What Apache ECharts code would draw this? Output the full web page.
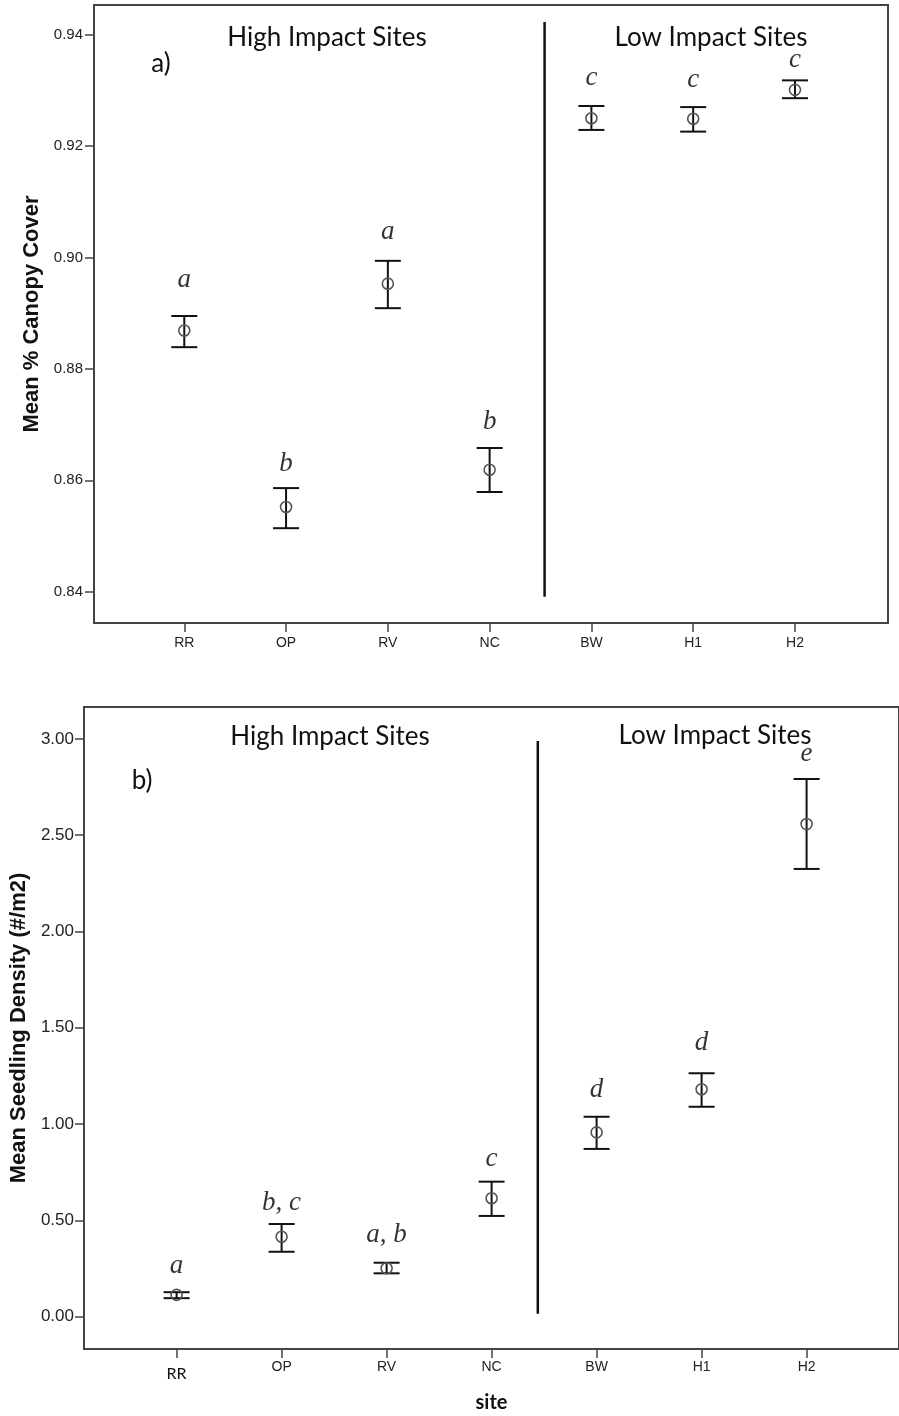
<!DOCTYPE html>
<html>
<head>
<meta charset="utf-8">
<script src="https://cdn.jsdelivr.net/npm/echarts@6/dist/echarts.min.js"></script>
<style>
  html, body { margin: 0; padding: 0; background: #fff; }
  #chart { width: 899px; height: 1416px; }
</style>
</head>
<body>
<div id="chart"></div>
<script>
// Sites along the x axis (high impact first, then low impact)
const sites = ['RR', 'OP', 'RV', 'NC', 'BW', 'H1', 'H2'];

// a) Mean % canopy cover with error bar limits
const canopyMean = [0.8869, 0.8552, 0.8953, 0.8619, 0.9250, 0.9249, 0.9301];
const canopyLow  = [0.8839, 0.8514, 0.8909, 0.8579, 0.9229, 0.9226, 0.9286];
const canopyHigh = [0.8895, 0.8586, 0.8994, 0.8658, 0.9272, 0.9270, 0.9318];
const canopyLetters = ['a', 'b', 'a', 'b', 'c', 'c', 'c'];
const canopyTicks = [0.84, 0.86, 0.88, 0.90, 0.92, 0.94];

// b) Mean seedling density (#/m2) with error bar limits
const seedMean = [0.113, 0.415, 0.251, 0.615, 0.957, 1.181, 2.558];
const seedLow  = [0.096, 0.337, 0.225, 0.523, 0.871, 1.090, 2.325];
const seedHigh = [0.127, 0.481, 0.280, 0.701, 1.038, 1.264, 2.792];
const seedLetters = ['a', 'b, c', 'a, b', 'c', 'd', 'd', 'e'];
const seedTicks = [0, 0.5, 1.0, 1.5, 2.0, 2.5, 3.0];

// Divider between high and low impact groups (x in site units, y in axis units)
const canopyDivider = { x: 3.54, from: 0.8391, to: 0.9423 };
const seedDivider = { x: 3.44, from: 0.015, to: 2.99 };

// Layout: gap in px between upper cap and the group letter
const canopyLetterGap = [27, 15, 19, 17, 19, 18, 11];
const seedLetterGap = [17, 12, 18, 13, 17, 21, 16];

const siteIdx = sites.map((s, i) => i);
const INK = '#111';
const FRAME = '#444';

function errorBars(xi, yi, low, high) {
  return {
    type: 'custom',
    xAxisIndex: xi, yAxisIndex: yi,
    silent: true,
    z: 2,
    encode: { x: 0, y: [1, 2] },
    data: siteIdx.map(i => [i, low[i], high[i]]),
    renderItem(params, api) {
      const x = api.value(0);
      const pHi = api.coord([x, api.value(2)]);
      const pLo = api.coord([x, api.value(1)]);
      const w = 13;
      const st = { stroke: INK, lineWidth: 2 };
      return {
        type: 'group',
        children: [
          { type: 'line', shape: { x1: pHi[0], y1: pHi[1], x2: pLo[0], y2: pLo[1] }, style: st },
          { type: 'line', shape: { x1: pHi[0] - w, y1: pHi[1], x2: pHi[0] + w, y2: pHi[1] }, style: st },
          { type: 'line', shape: { x1: pLo[0] - w, y1: pLo[1], x2: pLo[0] + w, y2: pLo[1] }, style: st }
        ]
      };
    }
  };
}

function means(xi, yi, mean) {
  return {
    type: 'scatter',
    xAxisIndex: xi, yAxisIndex: yi,
    silent: true,
    z: 3,
    symbol: 'circle',
    symbolSize: 11,
    itemStyle: { color: 'rgba(0,0,0,0)', borderColor: '#555', borderWidth: 1.6, opacity: 1 },
    data: siteIdx.map(i => [i, mean[i]])
  };
}

function letters(xi, yi, high, text, gaps) {
  return {
    type: 'scatter',
    xAxisIndex: xi, yAxisIndex: yi,
    silent: true,
    z: 4,
    symbolSize: 0,
    data: siteIdx.map(i => ({ value: [i, high[i]], label: { distance: gaps[i] - 4 } })),
    label: {
      show: true,
      position: 'top',
      formatter: p => text[p.dataIndex],
      fontFamily: 'Liberation Serif',
      fontStyle: 'italic',
      fontSize: 27,
      color: '#000'
    }
  };
}

function divider(xi, yi, d) {
  return {
    type: 'line',
    xAxisIndex: xi, yAxisIndex: yi,
    silent: true,
    symbol: 'none',
    z: 2,
    lineStyle: { color: INK, width: 2.5 },
    data: [[d.x, d.from], [d.x, d.to]]
  };
}

const yTitleStyle = { fontFamily: 'Liberation Sans', fontWeight: 'bold', color: INK };
const hiddenLine = { show: false, onZero: false };

const option = {
  animation: false,
  backgroundColor: '#fff',
  grid: [
    { left: 94, top: 5, width: 794, height: 618, show: true, borderColor: FRAME, borderWidth: 2, backgroundColor: 'transparent' },
    { left: 84, top: 707, width: 825, height: 642, show: true, borderColor: FRAME, borderWidth: 2, backgroundColor: 'transparent' }
  ],
  xAxis: [
    {
      gridIndex: 0, type: 'value', min: -0.887, max: 6.914, position: 'bottom',
      axisLine: hiddenLine,
      splitLine: { show: false },
      axisTick: { show: true, customValues: siteIdx, length: 9, lineStyle: { color: FRAME, width: 1.5 } },
      axisLabel: { customValues: siteIdx, formatter: v => sites[Math.round(v)], margin: 13, fontFamily: 'Liberation Sans', fontSize: 14, color: '#222' }
    },
    {
      gridIndex: 1, type: 'value', min: -0.882, max: 6.88, position: 'bottom',
      axisLine: hiddenLine,
      splitLine: { show: false },
      axisTick: { show: true, customValues: siteIdx, length: 9, lineStyle: { color: FRAME, width: 1.5 } },
      axisLabel: {
        customValues: siteIdx,
        formatter: v => { const i = Math.round(v); return i === 0 ? '{cal|' + sites[i] + '}' : sites[i]; },
        margin: 11, fontFamily: 'Liberation Sans', fontSize: 14, color: '#222',
        rich: { cal: { fontFamily: 'Lato', fontSize: 16, color: INK, padding: [6, 0, 0, 0] } }
      },
      name: 'site', nameLocation: 'middle', nameGap: 44,
      nameTextStyle: { fontFamily: 'Lato', fontWeight: 'bold', fontSize: 20, color: INK }
    }
  ],
  yAxis: [
    {
      gridIndex: 0, type: 'value', min: 0.83438, max: 0.94533, position: 'left',
      axisLine: hiddenLine,
      splitLine: { show: false },
      axisTick: { show: true, customValues: canopyTicks, length: 9, lineStyle: { color: FRAME, width: 1.5 } },
      axisLabel: { customValues: canopyTicks, formatter: v => v.toFixed(2), margin: 11, fontFamily: 'Liberation Sans', fontSize: 15, color: '#222' },
      name: 'Mean % Canopy Cover', nameLocation: 'middle', nameGap: 50,
      nameTextStyle: Object.assign({ fontSize: 22 }, yTitleStyle)
    },
    {
      gridIndex: 1, type: 'value', min: -0.168, max: 3.166, position: 'left',
      axisLine: hiddenLine,
      splitLine: { show: false },
      axisTick: { show: true, customValues: seedTicks, length: 9, lineStyle: { color: FRAME, width: 1.5 } },
      axisLabel: { customValues: seedTicks, formatter: v => v.toFixed(2), margin: 10, fontFamily: 'Liberation Sans', fontSize: 17, color: '#222' },
      name: 'Mean Seedling Density (#/m2)', nameLocation: 'middle', nameGap: 50,
      nameTextStyle: Object.assign({ fontSize: 22 }, yTitleStyle)
    }
  ],
  graphic: [
    { type: 'text', x: 327, y: 38, style: { text: 'High Impact Sites', font: '26px Lato', fill: INK, align: 'center', verticalAlign: 'middle' } },
    { type: 'text', x: 711, y: 38, style: { text: 'Low Impact Sites', font: '26px Lato', fill: INK, align: 'center', verticalAlign: 'middle' } },
    { type: 'text', x: 161, y: 64, style: { text: 'a)', font: '26px Lato', fill: INK, align: 'center', verticalAlign: 'middle' } },
    { type: 'text', x: 330, y: 737, style: { text: 'High Impact Sites', font: '26px Lato', fill: INK, align: 'center', verticalAlign: 'middle' } },
    { type: 'text', x: 715, y: 736, style: { text: 'Low Impact Sites', font: '26px Lato', fill: INK, align: 'center', verticalAlign: 'middle' } },
    { type: 'text', x: 142, y: 781, style: { text: 'b)', font: '26px Lato', fill: INK, align: 'center', verticalAlign: 'middle' } }
  ],
  series: [
    divider(0, 0, canopyDivider),
    errorBars(0, 0, canopyLow, canopyHigh),
    means(0, 0, canopyMean),
    letters(0, 0, canopyHigh, canopyLetters, canopyLetterGap),
    divider(1, 1, seedDivider),
    errorBars(1, 1, seedLow, seedHigh),
    means(1, 1, seedMean),
    letters(1, 1, seedHigh, seedLetters, seedLetterGap)
  ]
};

const chart = echarts.init(document.getElementById('chart'), null, { renderer: 'canvas' });
chart.setOption(option);
</script>
</body>
</html>
